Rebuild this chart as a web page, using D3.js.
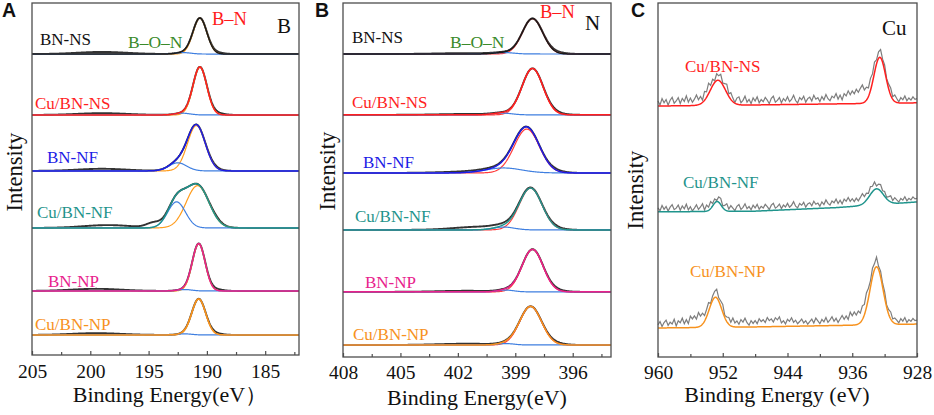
<!DOCTYPE html>
<html>
<head>
<meta charset="utf-8">
<script src="https://cdn.jsdelivr.net/npm/d3@7"></script>
<style>
  body { margin: 0; background: #fff; }
  svg text { font-family: "Liberation Serif", "DejaVu Serif", "Noto Serif", "Times New Roman", Times, serif; }
</style>
</head>
<body>
<div id="chart"></div>
<script>
// ---------- values ----------
const samplesAB = ['BN-NS', 'Cu/BN-NS', 'BN-NF', 'Cu/BN-NF', 'BN-NP', 'Cu/BN-NP'];
const colorsAB = ['#1a1a1a', '#ff1f1f', '#1c1ce6', '#1f948c', '#e8218c', '#f7921e'];

// panel A : B 1s  (peak = [centre eV, height, fwhm eV])
const energyA = [205, 182.1];
const offsetsA = [85.5, 68.2, 52.3, 36.1, 18.2, 5.7];
const bnCenterA = [190.6, 190.6, 190.9, 190.8, 190.7, 190.7];
const bnHeightA = [10.2, 13.6, 12.9, 12.0, 13.4, 10.2];
const bnFwhmA = [1.4, 1.4, 1.8, 2.3, 1.3, 1.4];
const bonCenterA = [192.0, 192.1, 192.5, 192.6, 191.9, 191.9];
const bonHeightA = [0.4, 0.5, 2.3, 7.4, 0.4, 0.3];
const bonFwhmA = [1.5, 1.5, 1.8, 1.8, 1.4, 1.4];
const rawExtraA = [
  [[199, 0.6, 5], [189.2, 0.4, 1.4]],
  [[199, 0.5, 5], [189.2, 0.5, 1.4]],
  [[199, 0.6, 5], [189.4, 0.4, 1.4]],
  [[198.5, 0.8, 5], [194.6, 1.3, 1.4], [189.2, 0.4, 1.4]],
  [[199.5, 0.6, 5], [189.3, 0.5, 1.4]],
  [[199.5, 0.5, 5], [189.3, 0.4, 1.4]]
];
const majorA = [205, 200, 195, 190, 185];
const minorA = [202.5, 197.5, 192.5, 187.5, 182.5];

// panel B : N 1s
const energyB = [408, 394];
const offsetsB = [85.6, 68.4, 52.0, 35.9, 18.4, 3.4];
const bnCenterB = [398.1, 398.1, 398.4, 398.2, 398.1, 398.2];
const bnHeightB = [10.0, 13.1, 12.4, 11.8, 12.0, 10.9];
const bnFwhmB = [1.25, 1.3, 1.55, 1.4, 1.3, 1.35];
const bonCenterB = [399.6, 399.7, 399.6, 399.6, 399.5, 399.5];
const bonHeightB = [0.4, 0.5, 1.4, 0.8, 0.5, 0.4];
const bonFwhmB = [1.2, 1.2, 2.2, 1.3, 1.0, 1.0];
const rawExtraB = [
  [[401.5, 0.25, 3.5], [396.9, 0.4, 1.1]],
  [[401.5, 0.25, 3.5], [396.9, 0.4, 1.1]],
  [[401.2, 0.4, 3.5], [396.9, 0.4, 1.1]],
  [[400.8, 0.9, 3.2], [396.9, 0.4, 1.1]],
  [[401.5, 0.3, 3.5], [396.9, 0.4, 1.1]],
  [[401.5, 0.35, 3.5], [396.9, 0.4, 1.1]]
];
const majorB = [408, 405, 402, 399, 396];
const minorB = [406.5, 403.5, 400.5, 397.5, 394.5];

// panel C : Cu 2p
const samplesC = ['Cu/BN-NS', 'Cu/BN-NF', 'Cu/BN-NP'];
const colorsC = ['#ff1f1f', '#1f948c', '#f7921e'];
const energyC = [960, 928];
const bgEnergyC = [960, 948, 938, 928];
const bgC = [
  [70.9, 71.2, 71.5, 71.8],
  [41.0, 41.2, 42.2, 43.8],
  [8.2, 8.5, 8.9, 9.3]
];
const p12CenterC = [952.6, 952.7, 952.9];
const p12HeightC = [7.1, 2.8, 8.5];
const p12FwhmC = [2.2, 1.2, 1.8];
const p32CenterC = [932.6, 933.0, 933.0];
const p32HeightC = [13.0, 4.5, 16.4];
const p32FwhmC = [1.7, 2.0, 1.9];
const rawExtraC = [
  [[934.8, 2.6, 2.4], [955, 0.6, 3]],
  [[934.5, 0.8, 2.5]],
  [[935, 1.8, 2.5], [955.2, 1.8, 2]]
];
// measured trace above the fit, one value every 0.25 eV from 960 eV
const rawStepC = 0.25;
const noiseNS = [
  1.4, 0.3, 2.1, 0.9, 1.8, 0.2, 1.6, 2.4, 0.7, 1.3, 2.2, 0.5, 1.9, 1.0, 2.5, 0.6,
  1.7, 0.4, 1.2, 2.3, 0.8, 1.5, 0.1, 2.0, 1.1, 2.6, 0.9, 1.6, 0.3, 1.8, 1.2, 2.1,
  0.5, 1.4, 2.4, 0.7, 1.9, 1.0, 0.2, 1.7, 2.2, 0.6, 1.3, 2.5, 0.8, 1.6, 0.4, 2.0,
  1.1, 2.3, 0.6, 1.5, 0.9, 2.1, 1.3, 0.3, 1.8, 2.4, 0.7, 1.2, 2.0, 0.5, 1.7, 1.0,
  2.2, 0.8, 1.4, 2.6, 1.1, 0.4, 1.9, 1.3, 2.3, 0.6, 1.6, 2.0, 0.9, 2.5, 1.4, 1.8,
  0.7, 2.1, 1.2, 2.7, 1.5, 0.9, 2.2, 1.7, 2.9, 1.3, 2.4, 1.0, 2.6, 1.8, 3.0, 1.6,
  2.3, 1.1, 2.0, 0.8, 1.7, 2.5, 0.9, 1.4, 0.5, 1.9, 1.2, 2.2, 0.6, 1.5, 2.1, 0.8,
  1.6, 0.4, 1.3, 2.0, 0.7, 1.8, 1.1, 0.3, 1.5, 0.9, 2.0, 0.6, 1.4, 0.8, 1.7, 1.0,
  1.2
];
const noiseNF = [
  1.1, 0.3, 1.8, 0.7, 1.5, 0.2, 1.3, 2.0, 0.6, 1.0, 1.9, 0.4, 1.6, 0.8, 2.1, 0.5,
  1.4, 0.2, 1.0, 1.9, 0.6, 1.3, 2.2, 0.4, 1.7, 0.9, 2.0, 0.7, 1.2, 0.3, 1.5, 1.8,
  0.5, 1.2, 2.0, 0.6, 1.6, 0.9, 0.2, 1.4, 1.9, 0.5, 1.1, 2.1, 0.7, 1.3, 0.4, 1.7,
  0.9, 1.9, 0.5, 1.3, 0.8, 1.8, 1.1, 0.3, 1.5, 2.0, 0.6, 1.0, 1.7, 0.4, 1.4, 0.8,
  1.8, 0.7, 1.2, 2.2, 0.9, 0.4, 1.6, 1.1, 1.9, 0.5, 1.4, 1.7, 0.8, 2.1, 1.2, 1.5,
  0.6, 1.8, 1.0, 2.3, 1.3, 0.8, 1.9, 1.4, 2.4, 1.1, 2.0, 0.9, 2.2, 1.5, 2.5, 1.3,
  1.9, 0.9, 1.7, 0.7, 1.4, 2.1, 0.8, 1.2, 0.4, 1.6, 1.0, 1.8, 0.5, 1.3, 1.7, 0.7,
  1.3, 0.4, 1.1, 1.7, 0.6, 1.5, 0.9, 0.3, 1.3, 0.8, 1.7, 0.5, 1.2, 0.7, 1.5, 0.9,
  1.0
];
const noiseNP = [
  0.9, 1.8, 0.4, 1.5, 2.2, 0.7, 1.6, 1.1, 2.4, 0.5, 1.9, 1.3, 2.5, 0.8, 1.7, 0.3,
  2.1, 1.0, 1.6, 0.5, 2.3, 1.2, 1.8, 0.6, 1.4, 2.0, 0.3, 1.1, 1.7, 2.4, 0.9, 1.5,
  2.2, 0.6, 1.3, 1.9, 1.0, 2.4, 1.1, 1.7, 0.8, 2.1, 1.4, 2.5, 1.2, 0.5, 1.8, 1.0,
  1.8, 0.9, 2.3, 1.5, 2.0, 1.2, 2.6, 1.7, 2.2, 1.3, 2.5, 1.9, 2.7, 1.0, 1.6, 0.7,
  2.0, 1.4, 2.4, 1.1, 1.7, 0.7, 1.3, 2.0, 0.9, 1.5, 0.5, 1.2, 1.9, 0.8, 2.2, 1.4,
  0.6, 1.8, 1.1, 2.3, 0.9, 1.6, 2.5, 1.2, 2.0, 0.8, 1.7, 2.6, 1.4, 2.2, 1.0, 2.8,
  1.5, 2.3, 1.1, 1.9, 0.8, 2.1, 1.3, 2.7, 1.6, 0.9, 1.8, 1.2, 2.4, 0.7, 1.5, 1.0,
  1.7, 0.6, 1.3, 2.0, 0.8, 1.5, 1.1, 0.4, 1.6, 0.9, 1.9, 0.5, 1.3, 0.8, 1.6, 1.0,
  1.1
];
const noiseC = [noiseNS, noiseNF, noiseNP];
const majorC = [960, 952, 944, 936, 928];
const minorC = [956, 948, 940, 932];

// ---------- drawing ----------
const w = 934;
const h = 415;
const serif = '"Liberation Serif", "DejaVu Serif", "Noto Serif", "Times New Roman", Times, serif';
const frameColor = '#4d4d4d';
const bonColor = '#3f7fe0';

const svg = d3.select('#chart').append('svg').attr('width', w).attr('height', h);

const gauss = (e, c, hgt, fw) => hgt * Math.exp(-4 * Math.LN2 * (e - c) * (e - c) / (fw * fw));
const sumPeaks = (e, list) => list.reduce((s, p) => s + gauss(e, p[0], p[1], p[2]), 0);

function grid(domain, step) {
  const lo = Math.min(domain[0], domain[1]);
  const hi = Math.max(domain[0], domain[1]);
  const g = d3.range(lo, hi, step);
  g.push(hi);
  return g;
}

function frameAndAxis(x, y, majors, minors, labelGap) {
  const [x0, x1] = x.range();
  const [y0, y1] = y.range();
  const g = svg.append('g');

  g.append('g')
    .attr('transform', `translate(0,${y0})`)
    .call(d3.axisBottom(x).tickValues(minors).tickSizeInner(-3).tickSizeOuter(0).tickFormat(''))
    .call((a) => a.select('.domain').remove())
    .selectAll('line').attr('stroke', frameColor).attr('stroke-width', 1.2);

  const major = g.append('g')
    .attr('transform', `translate(0,${y0})`)
    .call(d3.axisBottom(x).tickValues(majors).tickSizeInner(-4).tickSizeOuter(0).tickPadding(labelGap));
  major.select('.domain').remove();
  major.attr('font-family', serif);
  major.selectAll('line').attr('stroke', frameColor).attr('stroke-width', 1.2);
  major.selectAll('text')
    .attr('fill', '#111')
    .style('font-family', serif)
    .style('font-size', '19.5px');

  g.append('rect')
    .attr('x', x0).attr('y', y1)
    .attr('width', x1 - x0).attr('height', y0 - y1)
    .attr('fill', 'none')
    .attr('stroke', frameColor)
    .attr('stroke-width', 1.3);
}

function drawStack(x, y, offsets, bnC, bnH, bnW, bonC, bonH, bonW, rawExtra, bnColor) {
  const es = grid(x.domain(), 0.04);
  const line = d3.line().x((d) => x(d[0])).y((d) => y(d[1]));
  const g = svg.append('g');
  samplesAB.forEach((name, i) => {
    const bn = (e) => gauss(e, bnC[i], bnH[i], bnW[i]);
    const bon = (e) => gauss(e, bonC[i], bonH[i], bonW[i]);
    const fit = (e) => offsets[i] + bn(e) + bon(e);
    const raw = (e) => fit(e) + sumPeaks(e, rawExtra[i]);

    g.append('path').attr('d', line(es.map((e) => [e, raw(e)])))
      .attr('fill', 'none').attr('stroke', '#333').attr('stroke-width', 1.9);
    g.append('path').attr('d', line(es.map((e) => [e, offsets[i] + bn(e)])))
      .attr('fill', 'none').attr('stroke', bnColor).attr('stroke-width', 1.2);
    g.append('path').attr('d', line(es.map((e) => [e, offsets[i] + bon(e)])))
      .attr('fill', 'none').attr('stroke', bonColor).attr('stroke-width', 1.2);
    g.append('path').attr('d', line(es.map((e) => [e, fit(e)])))
      .attr('fill', 'none').attr('stroke', colorsAB[i]).attr('stroke-width', 1.5);
  });
}

function label(txt, px, py, color, size) {
  svg.append('text')
    .attr('x', px).attr('y', py)
    .attr('fill', color)
    .style('font-family', serif)
    .style('font-size', size + 'px')
    .text(txt);
}

function panelLetter(txt, px, py) {
  svg.append('text')
    .attr('x', px).attr('y', py)
    .style('font-family', '"Liberation Sans", Arial, sans-serif')
    .style('font-weight', 'bold')
    .style('font-size', '19.5px')
    .attr('fill', '#111')
    .text(txt);
}

function yTitle(px, py) {
  svg.append('text')
    .attr('transform', `translate(${px},${py}) rotate(-90)`)
    .attr('text-anchor', 'middle')
    .attr('fill', '#111')
    .style('font-family', serif)
    .style('font-size', '22.5px')
    .text('Intensity');
}

function xTitle(txt, px, py) {
  svg.append('text')
    .attr('x', px).attr('y', py)
    .attr('text-anchor', 'middle')
    .attr('fill', '#111')
    .style('font-family', serif)
    .style('font-size', '22px')
    .text(txt);
}

// panel A
const xA = d3.scaleLinear().domain(energyA).range([32, 299]);
const yA = d3.scaleLinear().domain([0, 100]).range([355, 3]);
drawStack(xA, yA, offsetsA, bnCenterA, bnHeightA, bnFwhmA, bonCenterA, bonHeightA, bonFwhmA, rawExtraA, '#ff9c1c');
frameAndAxis(xA, yA, majorA, minorA, 9);

// panel B
const xB = d3.scaleLinear().domain(energyB).range([343, 611]);
const yB = d3.scaleLinear().domain([0, 100]).range([357, 3]);
drawStack(xB, yB, offsetsB, bnCenterB, bnHeightB, bnFwhmB, bonCenterB, bonHeightB, bonFwhmB, rawExtraB, '#ff3b3b');
frameAndAxis(xB, yB, majorB, minorB, 8);

// panel C
const xC = d3.scaleLinear().domain(energyC).range([658, 917]);
const yC = d3.scaleLinear().domain([0, 100]).range([357, 3]);
(function drawCu() {
  const es = grid(energyC, 0.05);
  const line = d3.line().x((d) => xC(d[0])).y((d) => yC(d[1]));
  const g = svg.append('g');
  samplesC.forEach((name, i) => {
    const bg = d3.scaleLinear().domain(bgEnergyC).range(bgC[i]);
    const fit = (e) => bg(e) + gauss(e, p12CenterC[i], p12HeightC[i], p12FwhmC[i]) +
      gauss(e, p32CenterC[i], p32HeightC[i], p32FwhmC[i]);
    const raw = noiseC[i].map((n, k) => {
      const e = energyC[0] - k * rawStepC;
      return [e, fit(e) + sumPeaks(e, rawExtraC[i]) + n];
    });
    g.append('path').attr('d', line(raw))
      .attr('fill', 'none').attr('stroke', '#7d7d7d').attr('stroke-width', 1.2);
    g.append('path').attr('d', line(es.map((e) => [e, fit(e)])))
      .attr('fill', 'none').attr('stroke', colorsC[i]).attr('stroke-width', 1.5);
  });
})();
frameAndAxis(xC, yC, majorC, minorC, 8);

// annotations panel A
label('BN-NS', 40, 45, '#111', 17);
label('B\u2013O\u2013N', 128, 48, '#3a8a2a', 17.5);
label('B\u2013N', 212, 25, '#ff1a1a', 18.5);
label('B', 277, 33, '#111', 21);
label('Cu/BN-NS', 35, 109, colorsAB[1], 17);
label('BN-NF', 47, 163, colorsAB[2], 17);
label('Cu/BN-NF', 37, 218, colorsAB[3], 17);
label('BN-NP', 48, 287, colorsAB[4], 17);
label('Cu/BN-NP', 35, 330, colorsAB[5], 17);

// annotations panel B
label('BN-NS', 352, 43, '#111', 17);
label('B\u2013O\u2013N', 450, 48, '#3a8a2a', 17.5);
label('B\u2013N', 540, 18, '#ff1a1a', 18.5);
label('N', 585, 30, '#111', 21);
label('Cu/BN-NS', 352, 108, colorsAB[1], 17);
label('BN-NF', 363, 168, colorsAB[2], 17);
label('Cu/BN-NF', 355, 222, colorsAB[3], 17);
label('BN-NP', 365, 288, colorsAB[4], 17);
label('Cu/BN-NP', 353, 340, colorsAB[5], 17);

// annotations panel C
label('Cu', 882, 35, '#111', 21);
label('Cu/BN-NS', 685, 72, colorsC[0], 17);
label('Cu/BN-NF', 683, 188, colorsC[1], 17);
label('Cu/BN-NP', 690, 277, colorsC[2], 17);

panelLetter('A', 2, 17);
panelLetter('B', 315, 17);
panelLetter('C', 631, 17);

yTitle(22, 172);
yTitle(335, 171);
yTitle(643, 190);

xTitle('Binding Energy(eV\uFF09', 170, 402);
xTitle('Binding Energy(eV)', 477, 405);
xTitle('Binding Energy (eV)', 777, 402);
</script>
</body>
</html>
